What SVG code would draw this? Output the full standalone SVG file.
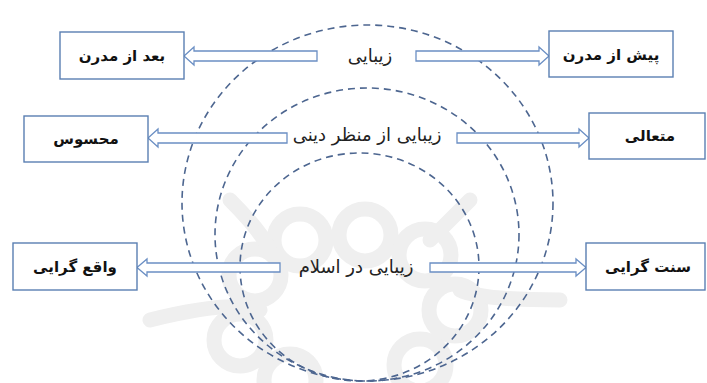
<svg xmlns="http://www.w3.org/2000/svg" width="707" height="383" viewBox="0 0 707 383">
<style>
.box{fill:#fff;stroke:#5a7fb2;stroke-width:1.4}
.arr{fill:#fff;stroke:#6b8fc4;stroke-width:1.3}
.ring{fill:none;stroke:#4d6690;stroke-width:1.6;stroke-dasharray:7 5}
.lbl{font-family:"DejaVu Sans",sans-serif;font-weight:bold;font-size:15px;fill:#111;text-anchor:middle}
.mid{font-family:"DejaVu Sans",sans-serif;font-size:18px;fill:#222;text-anchor:middle}
.wm{fill:none;stroke:#efefef;stroke-width:15;stroke-linecap:round}
</style>
<rect width="707" height="383" fill="#fff"/>
<g id="watermark" class="wm">
<circle cx="300" cy="240" r="26"/>
<circle cx="365" cy="235" r="26"/>
<circle cx="425" cy="255" r="26"/>
<circle cx="255" cy="275" r="26"/>
<circle cx="455" cy="310" r="26"/>
<circle cx="240" cy="340" r="26"/>
<circle cx="420" cy="365" r="26"/>
<circle cx="290" cy="380" r="26"/>
<path d="M150 320 Q230 300 260 310 M560 300 Q480 300 460 290 M230 200 Q260 230 270 250 M470 200 Q440 230 430 240"/>
</g>
<g id="rings">
<ellipse class="ring" cx="367.5" cy="203" rx="185.5" ry="178"/>
<ellipse class="ring" cx="367" cy="234.5" rx="152" ry="146.5"/>
<ellipse class="ring" cx="359.5" cy="267" rx="119.5" ry="114"/>
</g>
<g id="connectors">
<polygon class="arr" points="317,51 194,51 194,47 184,56 194,65 194,61 317,61"/>
<polygon class="arr" points="416,51 539,51 539,47 549,56 539,65 539,61 416,61"/>
<polygon class="arr" points="287,133 158,133 158,129 148,138 158,147 158,143 287,143"/>
<polygon class="arr" points="457,133 579,133 579,129 589,138 579,147 579,143 457,143"/>
<polygon class="arr" points="280,263 147,263 147,259 137,267.5 147,276 147,272 280,272"/>
<polygon class="arr" points="430,263 576,263 576,259 586,267.5 576,276 576,272 430,272"/>
</g>
<g id="n-beauty"><text class="mid" x="370" y="62">زیبایی</text></g>
<g id="n-religious"><text class="mid" x="367" y="141">زیبایی از منظر دینی</text></g>
<g id="n-islam"><text class="mid" x="356" y="273">زیبایی در اسلام</text></g>
<g id="n-postmodern"><rect class="box" x="60" y="32" width="124" height="47"/><text class="lbl" x="122" y="61">بعد از مدرن</text></g>
<g id="n-premodern"><rect class="box" x="549" y="31" width="124" height="46"/><text class="lbl" x="611" y="60">پیش از مدرن</text></g>
<g id="n-sensible"><rect class="box" x="24" y="116" width="124" height="46"/><text class="lbl" x="86" y="144">محسوس</text></g>
<g id="n-transcendent"><rect class="box" x="589" y="113" width="116" height="46"/><text class="lbl" x="650" y="141">متعالی</text></g>
<g id="n-realism"><rect class="box" x="13" y="243" width="124" height="47"/><text class="lbl" x="75" y="272">واقع گرایی</text></g>
<g id="n-traditionalism"><rect class="box" x="586" y="243" width="119" height="47"/><text class="lbl" x="648" y="272">سنت گرایی</text></g>
</svg>
